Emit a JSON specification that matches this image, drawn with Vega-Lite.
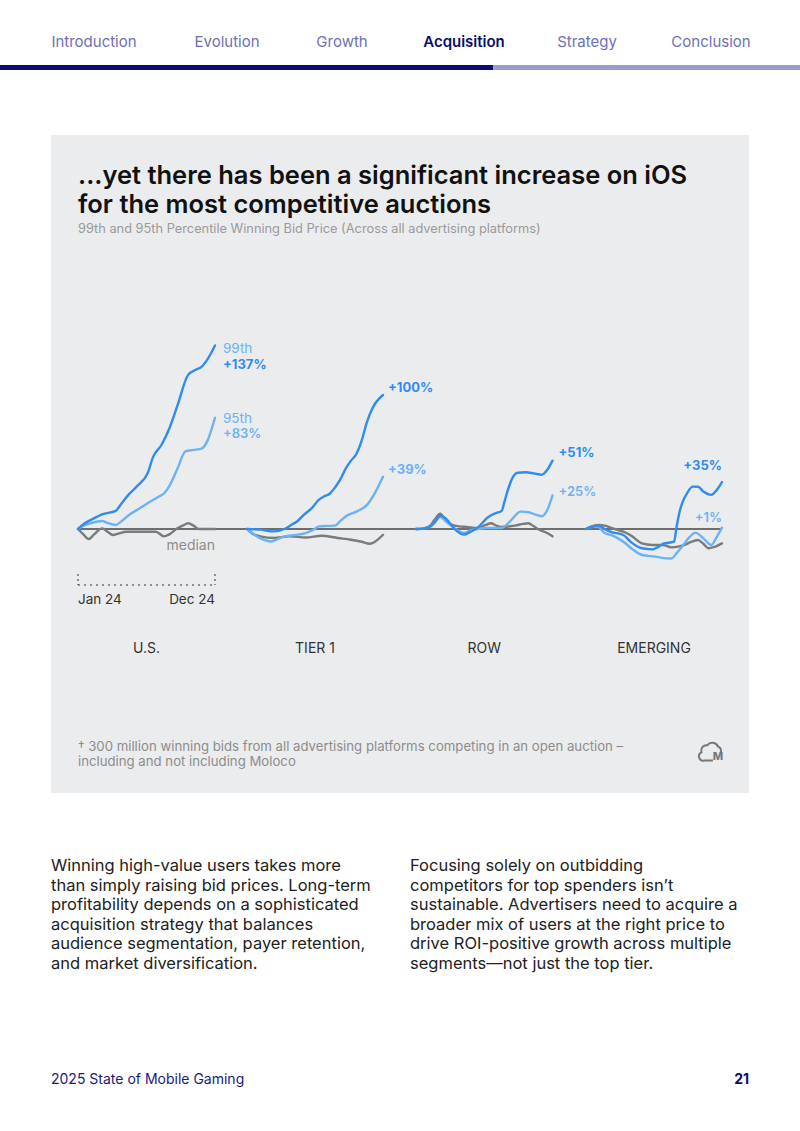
{
  "$schema": "https://vega.github.io/schema/vega-lite/v6.json",
  "width": 800,
  "height": 1131,
  "autosize": "none",
  "padding": 0,
  "background": "#ffffff",
  "config": {"font": "Inter", "view": {"stroke": null}, "text": {"font": "Inter"}},
  "datasets": {
    "bids": [
      {"region": "U.S.", "series": "median", "week": 1, "pct": 0},
      {"region": "U.S.", "series": "median", "week": 3, "pct": -4},
      {"region": "U.S.", "series": "median", "week": 5, "pct": -7.5},
      {"region": "U.S.", "series": "median", "week": 7, "pct": -4},
      {"region": "U.S.", "series": "median", "week": 10, "pct": 0.5},
      {"region": "U.S.", "series": "median", "week": 12, "pct": -2},
      {"region": "U.S.", "series": "median", "week": 14, "pct": -4.5},
      {"region": "U.S.", "series": "median", "week": 16, "pct": -3.5},
      {"region": "U.S.", "series": "median", "week": 19, "pct": -2},
      {"region": "U.S.", "series": "median", "week": 25, "pct": -2},
      {"region": "U.S.", "series": "median", "week": 30, "pct": -2},
      {"region": "U.S.", "series": "median", "week": 33, "pct": -5.5},
      {"region": "U.S.", "series": "median", "week": 35, "pct": -4},
      {"region": "U.S.", "series": "median", "week": 38, "pct": 0.5},
      {"region": "U.S.", "series": "median", "week": 40, "pct": 2.5},
      {"region": "U.S.", "series": "median", "week": 42, "pct": 4.3},
      {"region": "U.S.", "series": "median", "week": 44, "pct": 2.5},
      {"region": "U.S.", "series": "median", "week": 46, "pct": 0},
      {"region": "U.S.", "series": "median", "week": 52, "pct": 0},
      {"region": "U.S.", "series": "95th", "week": 1, "pct": 0},
      {"region": "U.S.", "series": "95th", "week": 3, "pct": 2.5},
      {"region": "U.S.", "series": "95th", "week": 6, "pct": 4.5},
      {"region": "U.S.", "series": "95th", "week": 10, "pct": 6},
      {"region": "U.S.", "series": "95th", "week": 12, "pct": 4.5},
      {"region": "U.S.", "series": "95th", "week": 15, "pct": 3},
      {"region": "U.S.", "series": "95th", "week": 17, "pct": 5.5},
      {"region": "U.S.", "series": "95th", "week": 20, "pct": 10.5},
      {"region": "U.S.", "series": "95th", "week": 24, "pct": 15.5},
      {"region": "U.S.", "series": "95th", "week": 28, "pct": 20.5},
      {"region": "U.S.", "series": "95th", "week": 31, "pct": 24},
      {"region": "U.S.", "series": "95th", "week": 33, "pct": 26.5},
      {"region": "U.S.", "series": "95th", "week": 35, "pct": 32},
      {"region": "U.S.", "series": "95th", "week": 38, "pct": 45},
      {"region": "U.S.", "series": "95th", "week": 41, "pct": 58},
      {"region": "U.S.", "series": "95th", "week": 44, "pct": 59},
      {"region": "U.S.", "series": "95th", "week": 47, "pct": 60},
      {"region": "U.S.", "series": "95th", "week": 49, "pct": 65},
      {"region": "U.S.", "series": "95th", "week": 52, "pct": 83},
      {"region": "U.S.", "series": "99th", "week": 1, "pct": 0},
      {"region": "U.S.", "series": "99th", "week": 3, "pct": 3.5},
      {"region": "U.S.", "series": "99th", "week": 6, "pct": 7},
      {"region": "U.S.", "series": "99th", "week": 10, "pct": 11},
      {"region": "U.S.", "series": "99th", "week": 15, "pct": 13.5},
      {"region": "U.S.", "series": "99th", "week": 17, "pct": 18.5},
      {"region": "U.S.", "series": "99th", "week": 20, "pct": 26},
      {"region": "U.S.", "series": "99th", "week": 23, "pct": 32},
      {"region": "U.S.", "series": "99th", "week": 27, "pct": 42},
      {"region": "U.S.", "series": "99th", "week": 29, "pct": 54},
      {"region": "U.S.", "series": "99th", "week": 32, "pct": 62.5},
      {"region": "U.S.", "series": "99th", "week": 35, "pct": 75},
      {"region": "U.S.", "series": "99th", "week": 38, "pct": 92},
      {"region": "U.S.", "series": "99th", "week": 42, "pct": 115},
      {"region": "U.S.", "series": "99th", "week": 45, "pct": 119},
      {"region": "U.S.", "series": "99th", "week": 47, "pct": 121},
      {"region": "U.S.", "series": "99th", "week": 49, "pct": 126},
      {"region": "U.S.", "series": "99th", "week": 52, "pct": 137},
      {"region": "TIER 1", "series": "median", "week": 1, "pct": 0},
      {"region": "TIER 1", "series": "median", "week": 3, "pct": -3.5},
      {"region": "TIER 1", "series": "median", "week": 6, "pct": -5.5},
      {"region": "TIER 1", "series": "median", "week": 11, "pct": -6.7},
      {"region": "TIER 1", "series": "median", "week": 17, "pct": -5.5},
      {"region": "TIER 1", "series": "median", "week": 23, "pct": -6.3},
      {"region": "TIER 1", "series": "median", "week": 29, "pct": -5},
      {"region": "TIER 1", "series": "median", "week": 35, "pct": -6.7},
      {"region": "TIER 1", "series": "median", "week": 40, "pct": -8},
      {"region": "TIER 1", "series": "median", "week": 44, "pct": -9.5},
      {"region": "TIER 1", "series": "median", "week": 47, "pct": -11},
      {"region": "TIER 1", "series": "median", "week": 49, "pct": -9.5},
      {"region": "TIER 1", "series": "median", "week": 52, "pct": -4.3},
      {"region": "TIER 1", "series": "95th", "week": 1, "pct": 0},
      {"region": "TIER 1", "series": "95th", "week": 3, "pct": -3},
      {"region": "TIER 1", "series": "95th", "week": 5, "pct": -6},
      {"region": "TIER 1", "series": "95th", "week": 8, "pct": -8.5},
      {"region": "TIER 1", "series": "95th", "week": 10, "pct": -9.3},
      {"region": "TIER 1", "series": "95th", "week": 12, "pct": -8},
      {"region": "TIER 1", "series": "95th", "week": 15, "pct": -5.5},
      {"region": "TIER 1", "series": "95th", "week": 19, "pct": -4.5},
      {"region": "TIER 1", "series": "95th", "week": 23, "pct": -3},
      {"region": "TIER 1", "series": "95th", "week": 26, "pct": -0.5},
      {"region": "TIER 1", "series": "95th", "week": 28, "pct": 2},
      {"region": "TIER 1", "series": "95th", "week": 31, "pct": 2.3},
      {"region": "TIER 1", "series": "95th", "week": 34, "pct": 2.5},
      {"region": "TIER 1", "series": "95th", "week": 36, "pct": 6},
      {"region": "TIER 1", "series": "95th", "week": 38, "pct": 9.4},
      {"region": "TIER 1", "series": "95th", "week": 42, "pct": 13},
      {"region": "TIER 1", "series": "95th", "week": 46, "pct": 18},
      {"region": "TIER 1", "series": "95th", "week": 49, "pct": 27},
      {"region": "TIER 1", "series": "95th", "week": 52, "pct": 39},
      {"region": "TIER 1", "series": "99th", "week": 1, "pct": 0},
      {"region": "TIER 1", "series": "99th", "week": 6, "pct": -0.5},
      {"region": "TIER 1", "series": "99th", "week": 11, "pct": -1.8},
      {"region": "TIER 1", "series": "99th", "week": 15, "pct": 0},
      {"region": "TIER 1", "series": "99th", "week": 18, "pct": 3.5},
      {"region": "TIER 1", "series": "99th", "week": 20, "pct": 6},
      {"region": "TIER 1", "series": "99th", "week": 22, "pct": 10},
      {"region": "TIER 1", "series": "99th", "week": 25, "pct": 15},
      {"region": "TIER 1", "series": "99th", "week": 28, "pct": 21.9},
      {"region": "TIER 1", "series": "99th", "week": 30, "pct": 24.5},
      {"region": "TIER 1", "series": "99th", "week": 32, "pct": 26.3},
      {"region": "TIER 1", "series": "99th", "week": 34, "pct": 31},
      {"region": "TIER 1", "series": "99th", "week": 36, "pct": 37},
      {"region": "TIER 1", "series": "99th", "week": 38, "pct": 45},
      {"region": "TIER 1", "series": "99th", "week": 40, "pct": 51},
      {"region": "TIER 1", "series": "99th", "week": 42, "pct": 56},
      {"region": "TIER 1", "series": "99th", "week": 44, "pct": 66},
      {"region": "TIER 1", "series": "99th", "week": 46, "pct": 80},
      {"region": "TIER 1", "series": "99th", "week": 48, "pct": 90},
      {"region": "TIER 1", "series": "99th", "week": 52, "pct": 100},
      {"region": "ROW", "series": "median", "week": 1, "pct": 0},
      {"region": "ROW", "series": "median", "week": 4, "pct": 0.5},
      {"region": "ROW", "series": "median", "week": 6, "pct": 2},
      {"region": "ROW", "series": "median", "week": 8, "pct": 7},
      {"region": "ROW", "series": "median", "week": 10, "pct": 11.4},
      {"region": "ROW", "series": "median", "week": 12, "pct": 7},
      {"region": "ROW", "series": "median", "week": 14, "pct": 3.5},
      {"region": "ROW", "series": "median", "week": 17, "pct": 2},
      {"region": "ROW", "series": "median", "week": 20, "pct": 1.5},
      {"region": "ROW", "series": "median", "week": 24, "pct": 0.7},
      {"region": "ROW", "series": "median", "week": 27, "pct": 3},
      {"region": "ROW", "series": "median", "week": 29, "pct": 4.3},
      {"region": "ROW", "series": "median", "week": 31, "pct": 2.5},
      {"region": "ROW", "series": "median", "week": 33, "pct": 1.5},
      {"region": "ROW", "series": "median", "week": 36, "pct": 2},
      {"region": "ROW", "series": "median", "week": 38, "pct": 2.5},
      {"region": "ROW", "series": "median", "week": 41, "pct": 3.8},
      {"region": "ROW", "series": "median", "week": 43, "pct": 4.3},
      {"region": "ROW", "series": "median", "week": 45, "pct": 2},
      {"region": "ROW", "series": "median", "week": 47, "pct": -0.5},
      {"region": "ROW", "series": "median", "week": 50, "pct": -3},
      {"region": "ROW", "series": "median", "week": 52, "pct": -5.5},
      {"region": "ROW", "series": "95th", "week": 1, "pct": 0},
      {"region": "ROW", "series": "95th", "week": 4, "pct": 0.5},
      {"region": "ROW", "series": "95th", "week": 6, "pct": 1.5},
      {"region": "ROW", "series": "95th", "week": 8, "pct": 5},
      {"region": "ROW", "series": "95th", "week": 10, "pct": 9},
      {"region": "ROW", "series": "95th", "week": 12, "pct": 6},
      {"region": "ROW", "series": "95th", "week": 14, "pct": 2.5},
      {"region": "ROW", "series": "95th", "week": 17, "pct": -1.5},
      {"region": "ROW", "series": "95th", "week": 19, "pct": -3},
      {"region": "ROW", "series": "95th", "week": 21, "pct": -1.5},
      {"region": "ROW", "series": "95th", "week": 24, "pct": 0},
      {"region": "ROW", "series": "95th", "week": 28, "pct": 0.7},
      {"region": "ROW", "series": "95th", "week": 33, "pct": 0.7},
      {"region": "ROW", "series": "95th", "week": 35, "pct": 3.5},
      {"region": "ROW", "series": "95th", "week": 37, "pct": 7.5},
      {"region": "ROW", "series": "95th", "week": 40, "pct": 13},
      {"region": "ROW", "series": "95th", "week": 43, "pct": 12.5},
      {"region": "ROW", "series": "95th", "week": 46, "pct": 10.5},
      {"region": "ROW", "series": "95th", "week": 48, "pct": 9.5},
      {"region": "ROW", "series": "95th", "week": 50, "pct": 14},
      {"region": "ROW", "series": "95th", "week": 52, "pct": 25},
      {"region": "ROW", "series": "99th", "week": 1, "pct": 0},
      {"region": "ROW", "series": "99th", "week": 4, "pct": 0.5},
      {"region": "ROW", "series": "99th", "week": 6, "pct": 1.5},
      {"region": "ROW", "series": "99th", "week": 8, "pct": 5},
      {"region": "ROW", "series": "99th", "week": 10, "pct": 10},
      {"region": "ROW", "series": "99th", "week": 12, "pct": 8},
      {"region": "ROW", "series": "99th", "week": 14, "pct": 3.5},
      {"region": "ROW", "series": "99th", "week": 16, "pct": -1},
      {"region": "ROW", "series": "99th", "week": 19, "pct": -4.2},
      {"region": "ROW", "series": "99th", "week": 21, "pct": -2.5},
      {"region": "ROW", "series": "99th", "week": 24, "pct": 1},
      {"region": "ROW", "series": "99th", "week": 28, "pct": 9},
      {"region": "ROW", "series": "99th", "week": 31, "pct": 12},
      {"region": "ROW", "series": "99th", "week": 33, "pct": 13.5},
      {"region": "ROW", "series": "99th", "week": 34, "pct": 20},
      {"region": "ROW", "series": "99th", "week": 35, "pct": 27},
      {"region": "ROW", "series": "99th", "week": 37, "pct": 38},
      {"region": "ROW", "series": "99th", "week": 39, "pct": 42},
      {"region": "ROW", "series": "99th", "week": 42, "pct": 42.3},
      {"region": "ROW", "series": "99th", "week": 45, "pct": 41.5},
      {"region": "ROW", "series": "99th", "week": 48, "pct": 40.5},
      {"region": "ROW", "series": "99th", "week": 50, "pct": 44},
      {"region": "ROW", "series": "99th", "week": 52, "pct": 51},
      {"region": "EMERGING", "series": "median", "week": 1, "pct": 0},
      {"region": "EMERGING", "series": "median", "week": 3, "pct": 2},
      {"region": "EMERGING", "series": "median", "week": 6, "pct": 3},
      {"region": "EMERGING", "series": "median", "week": 8, "pct": 2.5},
      {"region": "EMERGING", "series": "median", "week": 11, "pct": 0.5},
      {"region": "EMERGING", "series": "median", "week": 15, "pct": -2},
      {"region": "EMERGING", "series": "median", "week": 18, "pct": -5},
      {"region": "EMERGING", "series": "median", "week": 22, "pct": -10.7},
      {"region": "EMERGING", "series": "median", "week": 26, "pct": -11.9},
      {"region": "EMERGING", "series": "median", "week": 30, "pct": -12},
      {"region": "EMERGING", "series": "median", "week": 33, "pct": -13.7},
      {"region": "EMERGING", "series": "median", "week": 36, "pct": -13},
      {"region": "EMERGING", "series": "median", "week": 38, "pct": -11.9},
      {"region": "EMERGING", "series": "median", "week": 40, "pct": -10},
      {"region": "EMERGING", "series": "median", "week": 43, "pct": -8.2},
      {"region": "EMERGING", "series": "median", "week": 45, "pct": -11},
      {"region": "EMERGING", "series": "median", "week": 47, "pct": -14.4},
      {"region": "EMERGING", "series": "median", "week": 49, "pct": -13.5},
      {"region": "EMERGING", "series": "median", "week": 52, "pct": -10.7},
      {"region": "EMERGING", "series": "95th", "week": 1, "pct": 0},
      {"region": "EMERGING", "series": "95th", "week": 3, "pct": 1.5},
      {"region": "EMERGING", "series": "95th", "week": 5, "pct": 2.2},
      {"region": "EMERGING", "series": "95th", "week": 8, "pct": -3},
      {"region": "EMERGING", "series": "95th", "week": 11, "pct": -5},
      {"region": "EMERGING", "series": "95th", "week": 13, "pct": -7},
      {"region": "EMERGING", "series": "95th", "week": 16, "pct": -11},
      {"region": "EMERGING", "series": "95th", "week": 18, "pct": -14.4},
      {"region": "EMERGING", "series": "95th", "week": 22, "pct": -19.4},
      {"region": "EMERGING", "series": "95th", "week": 27, "pct": -20.6},
      {"region": "EMERGING", "series": "95th", "week": 31, "pct": -21.9},
      {"region": "EMERGING", "series": "95th", "week": 33, "pct": -22},
      {"region": "EMERGING", "series": "95th", "week": 35, "pct": -18},
      {"region": "EMERGING", "series": "95th", "week": 37, "pct": -13.2},
      {"region": "EMERGING", "series": "95th", "week": 40, "pct": -5.7},
      {"region": "EMERGING", "series": "95th", "week": 42, "pct": -2.7},
      {"region": "EMERGING", "series": "95th", "week": 45, "pct": -7},
      {"region": "EMERGING", "series": "95th", "week": 48, "pct": -11.9},
      {"region": "EMERGING", "series": "95th", "week": 50, "pct": -6},
      {"region": "EMERGING", "series": "95th", "week": 52, "pct": 1},
      {"region": "EMERGING", "series": "99th", "week": 1, "pct": 0},
      {"region": "EMERGING", "series": "99th", "week": 3, "pct": 1.5},
      {"region": "EMERGING", "series": "99th", "week": 6, "pct": 2.2},
      {"region": "EMERGING", "series": "99th", "week": 8, "pct": 0},
      {"region": "EMERGING", "series": "99th", "week": 10, "pct": -2},
      {"region": "EMERGING", "series": "99th", "week": 15, "pct": -4.5},
      {"region": "EMERGING", "series": "99th", "week": 18, "pct": -10},
      {"region": "EMERGING", "series": "99th", "week": 22, "pct": -14.4},
      {"region": "EMERGING", "series": "99th", "week": 26, "pct": -15.2},
      {"region": "EMERGING", "series": "99th", "week": 28, "pct": -13.5},
      {"region": "EMERGING", "series": "99th", "week": 30, "pct": -11},
      {"region": "EMERGING", "series": "99th", "week": 34, "pct": -9.5},
      {"region": "EMERGING", "series": "99th", "week": 35, "pct": 2},
      {"region": "EMERGING", "series": "99th", "week": 36, "pct": 12},
      {"region": "EMERGING", "series": "99th", "week": 37, "pct": 19},
      {"region": "EMERGING", "series": "99th", "week": 39, "pct": 27},
      {"region": "EMERGING", "series": "99th", "week": 41, "pct": 31.6},
      {"region": "EMERGING", "series": "99th", "week": 43, "pct": 31.5},
      {"region": "EMERGING", "series": "99th", "week": 45, "pct": 28},
      {"region": "EMERGING", "series": "99th", "week": 48, "pct": 25.5},
      {"region": "EMERGING", "series": "99th", "week": 50, "pct": 29},
      {"region": "EMERGING", "series": "99th", "week": 52, "pct": 35}
    ]
  },
  "data": {"values": [{}]},
  "resolve": {"scale": {"x": "independent"}},
  "layer": [
    {"mark": {"type": "rect", "x": 0, "x2": 493, "y": 65, "y2": 70, "fill": "#0b0b72"}},
    {"mark": {"type": "rect", "x": 493, "x2": 800, "y": 65, "y2": 70, "fill": "#9c9ccf"}},
    {"mark": {"type": "text", "text": "Introduction", "x": 94, "y": 42, "align": "center", "baseline": "middle", "fontSize": 15, "color": "#6f6fb6"}},
    {"mark": {"type": "text", "text": "Evolution", "x": 227, "y": 42, "align": "center", "baseline": "middle", "fontSize": 15, "color": "#6f6fb6"}},
    {"mark": {"type": "text", "text": "Growth", "x": 342, "y": 42, "align": "center", "baseline": "middle", "fontSize": 15, "color": "#6f6fb6"}},
    {"mark": {"type": "text", "text": "Acquisition", "x": 464, "y": 42, "align": "center", "baseline": "middle", "fontSize": 15, "fontWeight": 600, "color": "#0c0c6a"}},
    {"mark": {"type": "text", "text": "Strategy", "x": 587, "y": 42, "align": "center", "baseline": "middle", "fontSize": 15, "color": "#6f6fb6"}},
    {"mark": {"type": "text", "text": "Conclusion", "x": 711, "y": 42, "align": "center", "baseline": "middle", "fontSize": 15, "color": "#6f6fb6"}},
    {"mark": {"type": "rect", "x": 51, "x2": 749, "y": 135, "y2": 793, "fill": "#ebecee"}},
    {"mark": {"type": "text", "text": ["...yet there has been a significant increase on iOS", "for the most competitive auctions"], "x": 78, "y": 184, "align": "left", "baseline": "alphabetic", "lineHeight": 29, "fontSize": 25.5, "fontWeight": 600, "color": "#111111"}},
    {"mark": {"type": "text", "text": "99th and 95th Percentile Winning Bid Price (Across all advertising platforms)", "x": 78, "y": 233, "align": "left", "baseline": "alphabetic", "fontSize": 12.8, "color": "#9a9a9a"}},
    {
      "mark": {"type": "rule", "x": 78, "x2": 722, "color": "#6e6e6e", "strokeWidth": 2},
      "encoding": {"y": {"datum": 0, "type": "quantitative", "scale": {"domain": [-40, 160], "range": [582.6, 314.6], "nice": false, "zero": false}, "axis": null}}
    },
    {
      "data": {"name": "bids"},
      "transform": [{"filter": "datum.region === 'U.S.'"}],
      "layer": [
        {
          "mark": {"type": "line", "interpolate": "monotone", "strokeWidth": 2.4, "strokeCap": "round", "strokeJoin": "round"},
          "encoding": {
            "x": {"field": "week", "type": "quantitative", "scale": {"domain": [1, 52], "range": [78, 215], "nice": false, "zero": false}, "axis": null},
            "y": {"field": "pct", "type": "quantitative", "scale": {"domain": [-40, 160], "range": [582.6, 314.6], "nice": false, "zero": false}, "axis": null},
            "color": {"field": "series", "type": "nominal", "scale": {"domain": ["median", "95th", "99th"], "range": ["#7b7b7b", "#6cb2f6", "#2f8cf2"]}, "legend": null}
          }
        },
        {
          "transform": [{"filter": "datum.week === 52 && datum.series === '99th'"}],
          "mark": {"type": "text", "align": "left", "baseline": "middle", "dx": 8, "dy": 4, "fontSize": 13.5, "color": "#6cb2f6"},
          "encoding": {"x": {"field": "week", "type": "quantitative"}, "y": {"field": "pct", "type": "quantitative"}, "text": {"field": "series"}}
        },
        {
          "transform": [{"filter": "datum.week === 52 && datum.series === '99th'"}, {"calculate": "'+' + datum.pct + '%'", "as": "label"}],
          "mark": {"type": "text", "align": "left", "baseline": "middle", "dx": 8, "dy": 20, "fontSize": 13, "fontWeight": 700},
          "encoding": {"x": {"field": "week", "type": "quantitative"}, "y": {"field": "pct", "type": "quantitative"}, "text": {"field": "label"}, "color": {"field": "series", "type": "nominal"}}
        },
        {
          "transform": [{"filter": "datum.week === 52 && datum.series === '95th'"}],
          "mark": {"type": "text", "align": "left", "baseline": "middle", "dx": 8, "dy": 1, "fontSize": 13.5, "color": "#6cb2f6"},
          "encoding": {"x": {"field": "week", "type": "quantitative"}, "y": {"field": "pct", "type": "quantitative"}, "text": {"field": "series"}}
        },
        {
          "transform": [{"filter": "datum.week === 52 && datum.series === '95th'"}, {"calculate": "'+' + datum.pct + '%'", "as": "label"}],
          "mark": {"type": "text", "align": "left", "baseline": "middle", "dx": 8, "dy": 16, "fontSize": 13, "fontWeight": 600},
          "encoding": {"x": {"field": "week", "type": "quantitative"}, "y": {"field": "pct", "type": "quantitative"}, "text": {"field": "label"}, "color": {"field": "series", "type": "nominal"}}
        },
        {
          "transform": [{"filter": "datum.week === 52 && datum.series === 'median'"}],
          "mark": {"type": "text", "text": "median", "align": "right", "baseline": "middle", "dy": 17, "fontSize": 14, "color": "#8c8c8c"},
          "encoding": {"x": {"field": "week", "type": "quantitative"}, "y": {"field": "pct", "type": "quantitative"}}
        },
        {
          "data": {"values": [{}]},
          "mark": {"type": "rule", "y": 585, "color": "#333333", "strokeWidth": 1, "strokeDash": [2, 4]},
          "encoding": {"x": {"datum": 1, "type": "quantitative"}, "x2": {"datum": 52}}
        },
        {
          "data": {"values": [{}]},
          "mark": {"type": "rule", "y": 574, "y2": 585, "color": "#333333", "strokeWidth": 1, "strokeDash": [2, 3]},
          "encoding": {"x": {"datum": 1, "type": "quantitative"}}
        },
        {
          "data": {"values": [{}]},
          "mark": {"type": "rule", "y": 574, "y2": 585, "color": "#333333", "strokeWidth": 1, "strokeDash": [2, 3]},
          "encoding": {"x": {"datum": 52, "type": "quantitative"}}
        },
        {
          "data": {"values": [{}]},
          "mark": {"type": "text", "text": "Jan 24", "y": 600, "align": "left", "baseline": "middle", "fontSize": 13.5, "color": "#333333"},
          "encoding": {"x": {"datum": 1, "type": "quantitative"}}
        },
        {
          "data": {"values": [{}]},
          "mark": {"type": "text", "text": "Dec 24", "y": 600, "align": "right", "baseline": "middle", "fontSize": 13.5, "color": "#333333"},
          "encoding": {"x": {"datum": 52, "type": "quantitative"}}
        },
        {
          "data": {"values": [{}]},
          "mark": {"type": "text", "text": "U.S.", "y": 649, "align": "center", "baseline": "middle", "fontSize": 14, "color": "#333333"},
          "encoding": {"x": {"datum": 26.5, "type": "quantitative"}}
        }
      ]
    },
    {
      "data": {"name": "bids"},
      "transform": [{"filter": "datum.region === 'TIER 1'"}],
      "layer": [
        {
          "mark": {"type": "line", "interpolate": "monotone", "strokeWidth": 2.4, "strokeCap": "round", "strokeJoin": "round"},
          "encoding": {
            "x": {"field": "week", "type": "quantitative", "scale": {"domain": [1, 52], "range": [247, 383], "nice": false, "zero": false}, "axis": null},
            "y": {"field": "pct", "type": "quantitative", "scale": {"domain": [-40, 160], "range": [582.6, 314.6], "nice": false, "zero": false}, "axis": null},
            "color": {"field": "series", "type": "nominal", "scale": {"domain": ["median", "95th", "99th"], "range": ["#7b7b7b", "#6cb2f6", "#2f8cf2"]}, "legend": null}
          }
        },
        {
          "transform": [{"filter": "datum.week === 52 && datum.series !== 'median'"}, {"calculate": "'+' + datum.pct + '%'", "as": "label"}],
          "mark": {"type": "text", "align": "left", "baseline": "middle", "dx": 5, "dy": -7, "fontSize": 13, "fontWeight": 700},
          "encoding": {"x": {"field": "week", "type": "quantitative"}, "y": {"field": "pct", "type": "quantitative"}, "text": {"field": "label"}, "color": {"field": "series", "type": "nominal"}}
        },
        {
          "data": {"values": [{}]},
          "mark": {"type": "text", "text": "TIER 1", "y": 649, "align": "center", "baseline": "middle", "fontSize": 14, "color": "#333333"},
          "encoding": {"x": {"datum": 26.5, "type": "quantitative"}}
        }
      ]
    },
    {
      "data": {"name": "bids"},
      "transform": [{"filter": "datum.region === 'ROW'"}],
      "layer": [
        {
          "mark": {"type": "line", "interpolate": "monotone", "strokeWidth": 2.4, "strokeCap": "round", "strokeJoin": "round"},
          "encoding": {
            "x": {"field": "week", "type": "quantitative", "scale": {"domain": [1, 52], "range": [416, 552.5], "nice": false, "zero": false}, "axis": null},
            "y": {"field": "pct", "type": "quantitative", "scale": {"domain": [-40, 160], "range": [582.6, 314.6], "nice": false, "zero": false}, "axis": null},
            "color": {"field": "series", "type": "nominal", "scale": {"domain": ["median", "95th", "99th"], "range": ["#7b7b7b", "#6cb2f6", "#2f8cf2"]}, "legend": null}
          }
        },
        {
          "transform": [{"filter": "datum.week === 52 && datum.series === '99th'"}, {"calculate": "'+' + datum.pct + '%'", "as": "label"}],
          "mark": {"type": "text", "align": "left", "baseline": "middle", "dx": 6, "dy": -8, "fontSize": 13, "fontWeight": 700},
          "encoding": {"x": {"field": "week", "type": "quantitative"}, "y": {"field": "pct", "type": "quantitative"}, "text": {"field": "label"}, "color": {"field": "series", "type": "nominal"}}
        },
        {
          "transform": [{"filter": "datum.week === 52 && datum.series === '95th'"}, {"calculate": "'+' + datum.pct + '%'", "as": "label"}],
          "mark": {"type": "text", "align": "left", "baseline": "middle", "dx": 6, "dy": -4, "fontSize": 13, "fontWeight": 600},
          "encoding": {"x": {"field": "week", "type": "quantitative"}, "y": {"field": "pct", "type": "quantitative"}, "text": {"field": "label"}, "color": {"field": "series", "type": "nominal"}}
        },
        {
          "data": {"values": [{}]},
          "mark": {"type": "text", "text": "ROW", "y": 649, "align": "center", "baseline": "middle", "fontSize": 14, "color": "#333333"},
          "encoding": {"x": {"datum": 26.5, "type": "quantitative"}}
        }
      ]
    },
    {
      "data": {"name": "bids"},
      "transform": [{"filter": "datum.region === 'EMERGING'"}],
      "layer": [
        {
          "mark": {"type": "line", "interpolate": "monotone", "strokeWidth": 2.4, "strokeCap": "round", "strokeJoin": "round"},
          "encoding": {
            "x": {"field": "week", "type": "quantitative", "scale": {"domain": [1, 52], "range": [586, 722], "nice": false, "zero": false}, "axis": null},
            "y": {"field": "pct", "type": "quantitative", "scale": {"domain": [-40, 160], "range": [582.6, 314.6], "nice": false, "zero": false}, "axis": null},
            "color": {"field": "series", "type": "nominal", "scale": {"domain": ["median", "95th", "99th"], "range": ["#7b7b7b", "#6cb2f6", "#2f8cf2"]}, "legend": null}
          }
        },
        {
          "transform": [{"filter": "datum.week === 52 && datum.series === '99th'"}, {"calculate": "'+' + datum.pct + '%'", "as": "label"}],
          "mark": {"type": "text", "align": "right", "baseline": "middle", "dx": 0, "dy": -16, "fontSize": 13, "fontWeight": 700},
          "encoding": {"x": {"field": "week", "type": "quantitative"}, "y": {"field": "pct", "type": "quantitative"}, "text": {"field": "label"}, "color": {"field": "series", "type": "nominal"}}
        },
        {
          "transform": [{"filter": "datum.week === 52 && datum.series === '95th'"}, {"calculate": "'+' + datum.pct + '%'", "as": "label"}],
          "mark": {"type": "text", "align": "right", "baseline": "middle", "dx": 0, "dy": -10, "fontSize": 13, "fontWeight": 600},
          "encoding": {"x": {"field": "week", "type": "quantitative"}, "y": {"field": "pct", "type": "quantitative"}, "text": {"field": "label"}, "color": {"field": "series", "type": "nominal"}}
        },
        {
          "data": {"values": [{}]},
          "mark": {"type": "text", "text": "EMERGING", "y": 649, "align": "center", "baseline": "middle", "fontSize": 14, "color": "#333333"},
          "encoding": {"x": {"datum": 26.5, "type": "quantitative"}}
        }
      ]
    },
    {"mark": {"type": "text", "text": ["† 300 million winning bids from all advertising platforms competing in an open auction –", "including and not including Moloco"], "x": 78, "y": 751, "align": "left", "baseline": "alphabetic", "lineHeight": 15, "fontSize": 13.2, "color": "#8c8c8c"}},
    {"mark": {"type": "point", "shape": "M 0.15 0.75 L -0.5 0.75 A 0.35 0.35 0 0 1 -0.75 0.1 A 0.42 0.42 0 0 1 -0.3 -0.45 A 0.5 0.5 0 0 1 0.55 -0.35 A 0.35 0.35 0 0 1 0.75 0.15", "x": 711, "y": 751, "size": 650, "filled": false, "stroke": "#777777", "strokeWidth": 2, "opacity": 1}},
    {"mark": {"type": "text", "text": "M", "x": 718, "y": 757, "align": "center", "baseline": "middle", "fontSize": 11, "fontWeight": 800, "color": "#777777"}},
    {"mark": {"type": "text", "text": ["Winning high-value users takes more", "than simply raising bid prices. Long-term", "profitability depends on a sophisticated", "acquisition strategy that balances", "audience segmentation, payer retention,", "and market diversification."], "x": 51, "y": 871, "align": "left", "baseline": "alphabetic", "lineHeight": 19.5, "fontSize": 16.5, "color": "#222222"}},
    {"mark": {"type": "text", "text": ["Focusing solely on outbidding", "competitors for top spenders isn’t", "sustainable. Advertisers need to acquire a", "broader mix of users at the right price to", "drive ROI-positive growth across multiple", "segments—not just the top tier."], "x": 410, "y": 871, "align": "left", "baseline": "alphabetic", "lineHeight": 19.5, "fontSize": 16.5, "color": "#222222"}},
    {"mark": {"type": "text", "text": "2025 State of Mobile Gaming", "x": 51, "y": 1084, "align": "left", "baseline": "alphabetic", "fontSize": 14, "color": "#1a1a7a"}},
    {"mark": {"type": "text", "text": "21", "x": 749, "y": 1084, "align": "right", "baseline": "alphabetic", "fontSize": 14, "fontWeight": 700, "color": "#0c0c6a"}}
  ]
}
